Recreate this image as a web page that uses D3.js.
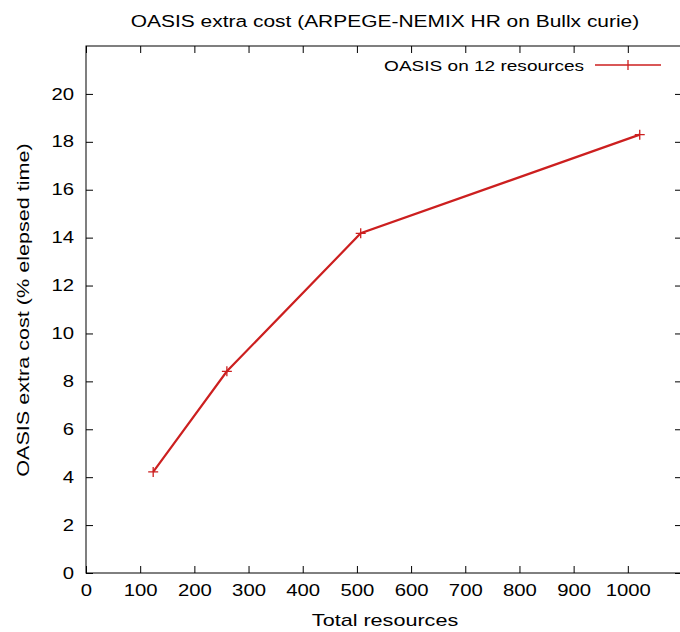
<!DOCTYPE html>
<html>
<head>
<meta charset="utf-8">
<script src="https://cdn.jsdelivr.net/npm/d3@7"></script>
<style>
  body { margin: 0; background: #fff; }
  text { font-family: "Liberation Sans", Arial, sans-serif; fill: #000; }
</style>
</head>
<body>
<svg></svg>
<script>
var resources = [124, 260, 507, 1022];
var extraCost = [4.22, 8.42, 14.18, 18.3];
var xTicks = [0, 100, 200, 300, 400, 500, 600, 700, 800, 900, 1000];
var yTicks = [0, 2, 4, 6, 8, 10, 12, 14, 16, 18, 20];

var width = 680, height = 632;
var svg = d3.select("svg").attr("width", width).attr("height", height);

// plot frame (note: "top" is reserved on window, so use plotTop)
var plotLeft = 86, plotRight = 682, plotTop = 46, plotBottom = 573;

var x = d3.scaleLinear().domain([0, 1100]).range([plotLeft, plotRight]);
var y = d3.scaleLinear().domain([0, 22]).range([plotBottom, plotTop]);

var tickLen = 7;
// the original picture's text is stretched sideways
var stretch = 1.27;
var red = "#cc1f1f";

// frame
svg.append("rect")
    .attr("x", plotLeft).attr("y", plotTop)
    .attr("width", plotRight - plotLeft).attr("height", plotBottom - plotTop)
    .attr("fill", "none").attr("stroke", "#000").attr("stroke-width", 1);

// bottom axis (ticks inward)
var xAxis = svg.append("g")
    .attr("transform", "translate(0," + plotBottom + ")")
    .call(d3.axisBottom(x).tickValues(xTicks).tickSize(-tickLen)
      .tickPadding(tickLen + 5).tickFormat(d3.format("d")));
xAxis.select(".domain").remove();
xAxis.selectAll("text")
    .attr("font-size", 16)
    .attr("transform", "scale(" + stretch + ",1)")
    .style("font-family", "Liberation Sans, Arial, sans-serif");

// top mirror ticks
var xTop = svg.append("g")
    .attr("transform", "translate(0," + plotTop + ")")
    .call(d3.axisTop(x).tickValues(xTicks).tickSize(-tickLen).tickFormat(""));
xTop.select(".domain").remove();

// left axis
var yAxis = svg.append("g")
    .attr("transform", "translate(" + plotLeft + ",0)")
    .call(d3.axisLeft(y).tickValues(yTicks).tickSize(-tickLen));
yAxis.select(".domain").remove();
yAxis.selectAll("text")
    .attr("font-size", 16)
    .attr("x", -12 / stretch)
    .attr("transform", "scale(" + stretch + ",1)")
    .style("font-family", "Liberation Sans, Arial, sans-serif");

// right mirror ticks
var yRight = svg.append("g")
    .attr("transform", "translate(" + plotRight + ",0)")
    .call(d3.axisRight(y).tickValues(yTicks).tickSize(-tickLen).tickFormat(""));
yRight.select(".domain").remove();

svg.selectAll(".tick line").attr("stroke", "#000");

// data line
var pts = resources.map(function(r, i) { return [r, extraCost[i]]; });
var line = d3.line()
    .x(function(d) { return x(d[0]); })
    .y(function(d) { return y(d[1]); });

svg.append("path")
    .datum(pts)
    .attr("d", line)
    .attr("fill", "none")
    .attr("stroke", red)
    .attr("stroke-width", 2.2);

var cross = 5;
svg.append("g").selectAll("path.pt")
    .data(pts)
    .enter().append("path")
    .attr("d", function(d) {
      var cx = x(d[0]), cy = y(d[1]);
      return "M" + (cx - cross) + "," + cy + "H" + (cx + cross) +
             "M" + cx + "," + (cy - cross) + "V" + (cy + cross);
    })
    .attr("stroke", red)
    .attr("stroke-width", 1.3);

// legend
var legY = 65;
svg.append("text")
    .attr("transform", "translate(584," + (legY + 6) + ") scale(" + stretch + ",1)")
    .attr("text-anchor", "end")
    .attr("font-size", 15)
    .text("OASIS on 12 resources");
svg.append("line")
    .attr("x1", 595).attr("x2", 661)
    .attr("y1", legY).attr("y2", legY)
    .attr("stroke", red).attr("stroke-width", 1.3);
svg.append("path")
    .attr("d", "M628," + (legY - cross) + "V" + (legY + cross))
    .attr("stroke", red).attr("stroke-width", 1.3);

// title
svg.append("text")
    .attr("transform", "translate(385,27) scale(" + stretch + ",1)")
    .attr("text-anchor", "middle")
    .attr("font-size", 16.5)
    .text("OASIS extra cost (ARPEGE-NEMIX HR on Bullx curie)");

// axis labels
svg.append("text")
    .attr("transform", "translate(385,626) scale(" + stretch + ",1)")
    .attr("text-anchor", "middle")
    .attr("font-size", 17)
    .text("Total resources");

svg.append("text")
    .attr("transform", "translate(29,310) rotate(-90) scale(" + stretch + ",1)")
    .attr("text-anchor", "middle")
    .attr("font-size", 17)
    .text("OASIS extra cost (% elepsed time)");
</script>
</body>
</html>
